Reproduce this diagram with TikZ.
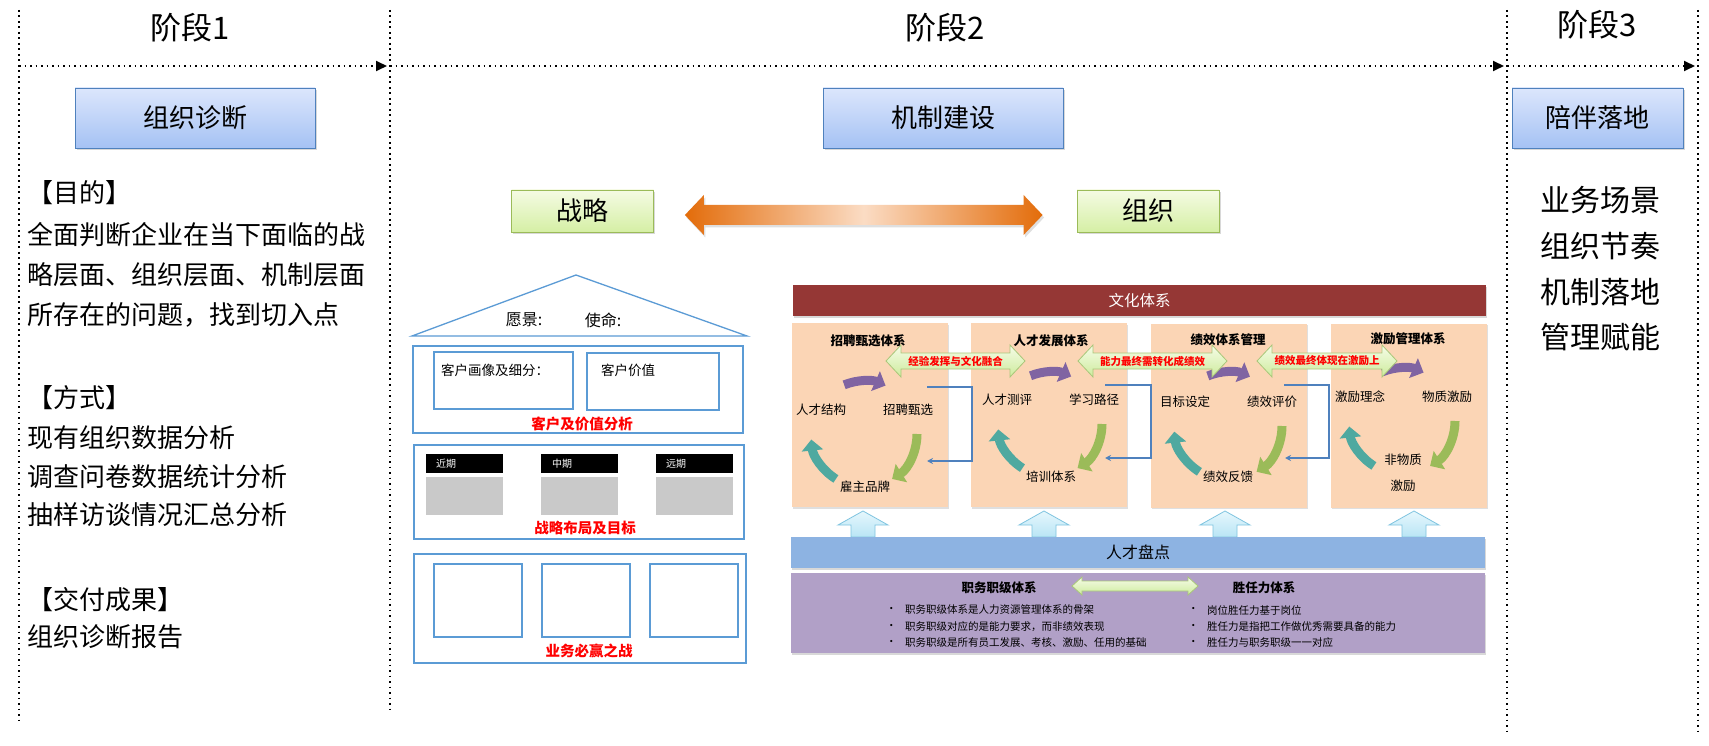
\documentclass[tikz,border=0pt]{standalone}
\usepackage{fontspec}
\setmainfont{Noto Sans CJK SC}
\usetikzlibrary{arrows.meta,shadows,calc}
\newcommand{\myfs}[1]{\fontsize{#1}{#1}\selectfont}
\definecolor{bbord}{HTML}{4F81BD}
\definecolor{btop}{HTML}{DCE6FC}
\definecolor{bbot}{HTML}{A5C2F4}
\definecolor{gbord}{HTML}{9BBB59}
\definecolor{gtop}{HTML}{F5FBE4}
\definecolor{gbot}{HTML}{D5EFA5}
\definecolor{orng}{HTML}{E36C0A}
\definecolor{peachl}{HTML}{FBDCC4}
\definecolor{peach}{HTML}{FBD5B5}
\definecolor{culture}{HTML}{953735}
\definecolor{talent}{HTML}{8DB3E2}
\definecolor{lilac}{HTML}{B1A0C7}
\definecolor{hline}{HTML}{5B9BD5}
\definecolor{cpurple}{HTML}{8064A2}
\definecolor{cgreen}{HTML}{9BBB59}
\definecolor{cteal}{HTML}{4FA9A0}
\definecolor{conn}{HTML}{4F81BD}
\definecolor{uptop}{HTML}{E6F7FD}
\definecolor{upbot}{HTML}{B9E5F5}
\definecolor{upbord}{HTML}{7FC4E0}
\definecolor{graybox}{HTML}{C9C9C9}
\definecolor{gatop}{HTML}{F6FCE8}
\definecolor{gabot}{HTML}{CDEB9C}
\definecolor{gabord}{HTML}{A9C77A}
\definecolor{redtxt}{HTML}{FF0000}

\newcommand{\dblarrow}[6]{%
  \path[#1] (#2) -- ($(#2)+(#4,-#5)$) -- ($(#2)+(#4,-#6)$) -- ($(#3)+(-#4,-#6)$)
    -- ($(#3)+(-#4,-#5)$) -- (#3) -- ($(#3)+(-#4,#5)$) -- ($(#3)+(-#4,#6)$)
    -- ($(#2)+(#4,#6)$) -- ($(#2)+(#4,#5)$) -- cycle;}
\newcommand{\uparr}[1]{%
  \path[uparrow] (#1,511) -- ({#1+25},525) -- ({#1+12},525) -- ({#1+12},537)
    -- ({#1-12},537) -- ({#1-12},525) -- ({#1-25},525) -- cycle;}
\newcommand{\mycycle}[3]{%
  \draw[cyc,cpurple] ({#1+#3*cos(-112)},{#2+#3*sin(-112)}) arc[start angle=112, end angle=66, radius=#3pt];
  \draw[cyc,cgreen] ({#1+#3*cos(0)},{#2+#3*sin(0)}) arc[start angle=0, end angle=-58, radius=#3pt];
  \draw[cyc,cteal] ({#1+#3*cos(122)},{#2+#3*sin(122)}) arc[start angle=-122, end angle=-174, radius=#3pt];}

\tikzset{
  stageline/.style={line width=1.8pt, dash pattern=on 1.8pt off 3.7pt},
  stagearrow/.style={stageline, -{Triangle[length=11pt,width=10pt]}, shorten >=3pt},
  txt/.style={inner sep=0pt, text=black},
  lefttext/.style={txt, anchor=west, font=\myfs{26}},
  s3text/.style={txt, font=\myfs{30}},
  bluebox/.style={draw=bbord, line width=0.8pt, top color=btop, bottom color=bbot,
    minimum height=60pt, font=\myfs{26},
    drop shadow={shadow xshift=1.5pt, shadow yshift=-2.5pt, opacity=0.3}},
  greenbox/.style={draw=gbord, line width=0.8pt, top color=gtop, bottom color=gbot,
    minimum width=142pt, minimum height=42pt, font=\myfs{26},
    drop shadow={shadow xshift=1.5pt, shadow yshift=-2.5pt, opacity=0.3}},
  oarrow/.style={left color=orng, right color=orng, middle color=peachl,
    drop shadow={shadow xshift=1.5pt, shadow yshift=-2.5pt, opacity=0.25}},
  house/.style={draw=hline, line width=1.3pt},
  redbig/.style={txt, text=redtxt, font=\bfseries\myfs{14.5}},
  pbox/.style={fill=peach, minimum width=156pt, minimum height=184pt, inner sep=0pt,
    drop shadow={shadow xshift=1.2pt, shadow yshift=-1.8pt, opacity=0.25}},
  ttl/.style={txt, font=\bfseries\myfs{12.5}},
  lbl/.style={txt, font=\myfs{12.5}},
  redlbl/.style={txt, text=redtxt, font=\bfseries\myfs{10.5}},
  garrow/.style={draw=gabord, line width=0.8pt, top color=gatop, bottom color=gabot},
  uparrow/.style={draw=upbord, line width=0.8pt, top color=uptop, bottom color=upbot},
  cyc/.style={line width=9pt, -{Triangle[length=11pt,width=21pt]}},
  conn/.style={draw=conn, line width=1.5pt, -{Stealth[length=6pt,width=6pt]}},
  bar/.style={inner sep=0pt, minimum width=694pt,
    drop shadow={shadow xshift=0.8pt, shadow yshift=-2pt, opacity=0.3}},
  bul/.style={txt, anchor=west, font=\myfs{10.5}},
}

\begin{document}
\begin{tikzpicture}[x=1pt,y=-1pt]
\useasboundingbox (0,0) rectangle (1709,746);
\fill[white] (0,0) rectangle (1709,746);

% ---------- stage frame ----------
\draw[stageline] (19,10) -- (19,721);
\draw[stageline] (390,10) -- (390,710);
\draw[stageline] (1507,10) -- (1507,732);
\draw[stageline] (1698,10) -- (1698,732);
\coordinate (h0) at (19,66);
\coordinate (h1) at (390,66);
\coordinate (h2) at (1507,66);
\coordinate (h3) at (1698,66);
\draw[stagearrow] (h0) -- (h1);
\draw[stagearrow] (h1) -- (h2);
\draw[stagearrow] (h2) -- (h3);

\node[txt, font=\myfs{31}] (s1) at (190,28) {阶段1};
\node[txt, font=\myfs{31}] (s2) at (945,28) {阶段2};
\node[txt, font=\myfs{31}] (s3) at (1597,25) {阶段3};

% ---------- blue boxes ----------
\node[bluebox, minimum width=240pt] (b1) at (195,118) {组织诊断};
\node[bluebox, minimum width=240pt] (b2) at (943,118) {机制建设};
\node[bluebox, minimum width=171pt] (b3) at (1597.5,118) {陪伴落地};

% ---------- stage 1 text ----------
\node[lefttext] (l1) at (27,193) {【目的】};
\node[lefttext] (l2) at (27,235) {全面判断企业在当下面临的战};
\node[lefttext] (l3) at (27,275) {略层面、组织层面、机制层面};
\node[lefttext] (l4) at (27,315) {所存在的问题，找到切入点};
\node[lefttext] (l5) at (27,398) {【方式】};
\node[lefttext] (l6) at (27,438) {现有组织数据分析};
\node[lefttext] (l7) at (27,477) {调查问卷数据统计分析};
\node[lefttext] (l8) at (27,515) {抽样访谈情况汇总分析};
\node[lefttext] (l9) at (27,600) {【交付成果】};
\node[lefttext] (l10) at (27,637) {组织诊断报告};

% ---------- stage 3 text ----------
\node[s3text] (r1) at (1600,200) {业务场景};
\node[s3text] (r2) at (1600,246) {组织节奏};
\node[s3text] (r3) at (1600,292) {机制落地};
\node[s3text] (r4) at (1600,337) {管理赋能};

% ---------- strategy / organisation ----------
\node[greenbox] (g1) at (582.5,211) {战略};
\node[greenbox] (g2) at (1148,211) {组织};
\coordinate (oa) at ($(g1.east)+(31,4)$);
\coordinate (ob) at ($(g2.west)+(-34,4)$);
\dblarrow{oarrow}{oa}{ob}{19}{20}{10}

% ---------- house ----------
\draw[house] (412,336) -- (576,275) -- (747,336) -- cycle;
\node[txt, font=\myfs{16}] (hv) at (524,320) {愿景:};
\node[txt, font=\myfs{16}] (hm) at (603,320) {使命:};
\draw[house] (413,346) rectangle (743,433);
\draw[house] (434,352) rectangle (573,409);
\draw[house] (587,353) rectangle (719,410);
\node[txt, anchor=west, font=\myfs{13.5}] (ca) at (441,370) {客户画像及细分：};
\node[txt, anchor=west, font=\myfs{13.5}] (cb) at (601,370) {客户价值};
\node[redbig] (ra) at (582,424) {客户及价值分析};
\draw[house] (414,445) rectangle (744,539);
\fill[black] (426,454) rectangle (503,473);
\fill[black] (541,454) rectangle (618,473);
\fill[black] (656,454) rectangle (733,473);
\fill[graybox] (426,477) rectangle (503,515);
\fill[graybox] (541,477) rectangle (618,515);
\fill[graybox] (656,477) rectangle (733,515);
\node[txt, anchor=west, text=white, font=\myfs{10}] (q1) at (436,464) {近期};
\node[txt, anchor=west, text=white, font=\myfs{10}] (q2) at (552,464) {中期};
\node[txt, anchor=west, text=white, font=\myfs{10}] (q3) at (666,464) {远期};
\node[redbig] (rb) at (585,528) {战略布局及目标};
\draw[house] (414,554) rectangle (746,663);
\draw[house] (434,564) rectangle (522,637);
\draw[house] (542,564) rectangle (630,637);
\draw[house] (650,564) rectangle (738,637);
\node[redbig] (rc) at (589,651) {业务必赢之战};

% ---------- culture bar ----------
\node[bar, fill=culture, minimum width=693pt, minimum height=31pt, text=white, font=\myfs{15.5}] (cul) at (1139.5,300.5) {文化体系};

% ---------- four system boxes ----------
\node[pbox] (p1) at (869.5,415) {};
\node[pbox] (p2) at (1049,415) {};
\node[pbox] (p3) at (1229,415.5) {};
\node[pbox] (p4) at (1409,415.5) {};
\node[ttl] (t1) at (868,341) {招聘甄选体系};
\node[ttl] (t2) at (1051,341) {人才发展体系};
\node[ttl] (t3) at (1228,340) {绩效体系管理};
\node[ttl] (t4) at (1408,339) {激励管理体系};

% connectors between boxes
\coordinate (c1s) at (927,387); \coordinate (c1b) at (972,461); \coordinate (c1e) at (927,461);
\coordinate (c2s) at (1105,385); \coordinate (c2b) at (1151,458); \coordinate (c2e) at (1105,458);
\coordinate (c3s) at (1284,385); \coordinate (c3b) at (1329,458); \coordinate (c3e) at (1285,458);
\draw[conn] (c1s) -| (c1b) -- (c1e);
\draw[conn] (c2s) -| (c2b) -- (c2e);
\draw[conn] (c3s) -| (c3b) -- (c3e);

% cycles
\mycycle{864}{434}{53}
\mycycle{1050}{424}{52}
\mycycle{1228}{426}{54}
\mycycle{1402}{421}{53}

% cycle labels
\node[lbl] (k11) at (821,410) {人才结构};
\node[lbl] (k12) at (908,410) {招聘甄选};
\node[lbl] (k13) at (865,487) {雇主品牌};
\node[lbl] (k21) at (1007,400) {人才测评};
\node[lbl] (k22) at (1094,400) {学习路径};
\node[lbl] (k23) at (1051,477) {培训体系};
\node[lbl] (k31) at (1185,402) {目标设定};
\node[lbl] (k32) at (1272,402) {绩效评价};
\node[lbl] (k33) at (1228,477) {绩效反馈};
\node[lbl] (k41) at (1360,397) {激励理念};
\node[lbl] (k42) at (1447,397) {物质激励};
\node[lbl] (k43) at (1403,460) {非物质};
\node[lbl] (k44) at (1403,486) {激励};

% green link arrows with red text
\coordinate (a1s) at (886,361); \coordinate (a1e) at (1025,361);
\coordinate (a2s) at (1078,361); \coordinate (a2e) at (1227,361);
\coordinate (a3s) at (1257,361); \coordinate (a3e) at (1397,361);
\dblarrow{garrow}{a1s}{a1e}{15}{16}{8}
\dblarrow{garrow}{a2s}{a2e}{15}{16}{8}
\dblarrow{garrow}{a3s}{a3e}{15}{16}{8}
\node[redlbl] (e1) at (955.5,361) {经验发挥与文化融合};
\node[redlbl] (e2) at (1152.5,361) {能力最终需转化成绩效};
\node[redlbl] (e3) at (1327,361) {绩效最终体现在激励上};

% up arrows
\uparr{863}
\uparr{1044}
\uparr{1225}
\uparr{1414}

% ---------- talent review ----------
\node[bar, fill=talent, minimum height=31pt, font=\myfs{16}] (tal) at (1138,552.5) {人才盘点};
\node[bar, fill=lilac, minimum height=80pt] (lil) at (1138,613) {};
\node[ttl] (j1) at (999,588) {职务职级体系};
\node[ttl] (j2) at (1264,588) {胜任力体系};
\coordinate (d1s) at (1072,586); \coordinate (d1e) at (1198,586);
\dblarrow{garrow}{d1s}{d1e}{10}{9}{5}
\node[bul] (u1) at (886,610) {•};
\node[bul] (u2) at (886,627) {•};
\node[bul] (u3) at (886,643) {•};
\node[bul] (v1) at (905,610) {职务职级体系是人力资源管理体系的骨架};
\node[bul] (v2) at (905,627) {职务职级对应的是能力要求，而非绩效表现};
\node[bul] (v3) at (905,643) {职务职级是所有员工发展、考核、激励、任用的基础};
\node[bul] (u4) at (1188,610) {•};
\node[bul] (u5) at (1188,627) {•};
\node[bul] (u6) at (1188,643) {•};
\node[bul] (w1) at (1207,610) {岗位胜任力基于岗位};
\node[bul] (w2) at (1207,627) {胜任力是指把工作做优秀需要具备的能力};
\node[bul] (w3) at (1207,643) {胜任力与职务职级一一对应};
\end{tikzpicture}
\end{document}
